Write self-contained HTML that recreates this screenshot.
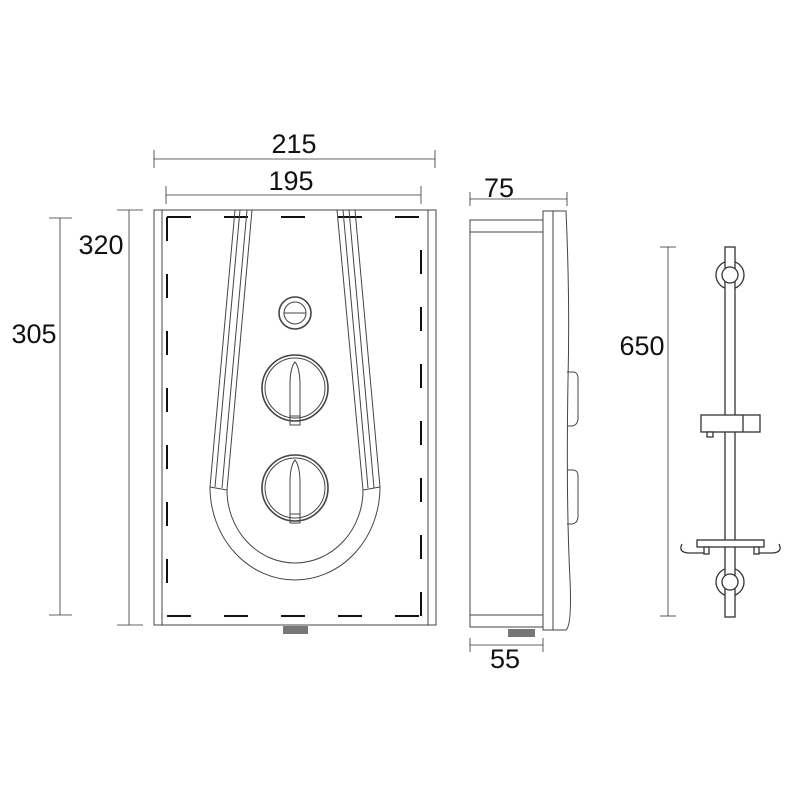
<!DOCTYPE html>
<html><head><style>body{margin:0;background:#fff}svg{display:block}text{font-family:"Liberation Sans",sans-serif;font-size:27px;fill:#111}</style></head><body>
<svg width="800" height="800" viewBox="0 0 800 800" xmlns="http://www.w3.org/2000/svg">
<g stroke="#333" stroke-width="0.8" fill="none">
<line x1="154" y1="159" x2="435" y2="159"/><line x1="154" y1="150" x2="154" y2="168"/><line x1="435" y1="150" x2="435" y2="168"/>
<line x1="166" y1="195" x2="421" y2="195"/><line x1="166" y1="186" x2="166" y2="204"/><line x1="421" y1="186" x2="421" y2="204"/>
<line x1="60" y1="218" x2="60" y2="615"/><line x1="49" y1="218" x2="72" y2="218"/><line x1="49" y1="615" x2="72" y2="615"/>
<line x1="129" y1="210" x2="129" y2="625"/><line x1="117" y1="210" x2="143" y2="210"/><line x1="117" y1="625" x2="143" y2="625"/>
<line x1="470" y1="199" x2="567" y2="199"/><line x1="470" y1="192" x2="470" y2="206"/><line x1="567" y1="192" x2="567" y2="206"/>
<line x1="470" y1="645" x2="543" y2="645"/><line x1="470" y1="638" x2="470" y2="652"/><line x1="543" y1="638" x2="543" y2="652"/>
<line x1="668" y1="247" x2="668" y2="616"/><line x1="660" y1="247" x2="676" y2="247"/><line x1="660" y1="616" x2="676" y2="616"/>
</g>
<text x="294" y="153" text-anchor="middle">215</text>
<text x="291" y="190" text-anchor="middle">195</text>
<text x="34" y="343" text-anchor="middle">305</text>
<text x="101" y="254" text-anchor="middle">320</text>
<text x="499" y="197" text-anchor="middle">75</text>
<text x="505" y="668" text-anchor="middle">55</text>
<text x="642" y="355" text-anchor="middle">650</text>

<g stroke="#444" stroke-width="1" fill="none">
<rect x="154" y="210" width="282" height="415"/>
<line x1="162" y1="210" x2="162" y2="625"/><line x1="428" y1="210" x2="428" y2="625"/>
<g stroke="#111" stroke-width="2">
<line x1="167" y1="217" x2="421" y2="217" stroke-dasharray="24,33"/>
<line x1="167" y1="616" x2="421" y2="616" stroke-dasharray="24,33"/>
<line x1="167" y1="217" x2="167" y2="616" stroke-dasharray="24,33"/>
<line x1="421" y1="217" x2="421" y2="616" stroke-dasharray="0,33,24,0"/>
</g>
<path d="M235 210 L210 487 A85 93 0 0 0 380 487 L355 210"/>
<path d="M252 210 L227 490 A68 73 0 0 0 363 490 L337 210"/>
<path d="M240 210 L215 487 M247 210 L222 488 M343 210 L368 488 M349 210 L374 488"/>
<line x1="210" y1="487" x2="227" y2="490"/><line x1="380" y1="487" x2="363" y2="490"/>
<circle cx="295" cy="313" r="16" stroke-width="1.6"/><circle cx="295" cy="313" r="11"/><line x1="284" y1="313" x2="306" y2="313"/>
<circle cx="295" cy="388" r="33" stroke-width="1.6"/><circle cx="295" cy="388" r="30"/>
<path d="M290 425 L290 385 Q290 368 295 362 Q300 368 300 385 L300 425 Z M290 416 L300 416"/>
<circle cx="295" cy="488" r="33" stroke-width="1.6"/><circle cx="295" cy="488" r="30"/>
<path d="M290 523 L290 483 Q290 466 295 460 Q300 466 300 483 L300 523 Z M290 514 L300 514"/>
</g>
<rect x="283" y="626" width="25" height="8" fill="#777"/>

<g stroke="#444" stroke-width="1" fill="none">
<rect x="470" y="220" width="73" height="407"/>
<line x1="470" y1="232" x2="543" y2="232"/><line x1="470" y1="615" x2="543" y2="615"/>
<path d="M543 211 L566 211 Q570 300 568 380 Q566 500 570 580 Q572 625 566 630 L543 630 Z"/>
<line x1="553" y1="211" x2="553" y2="630"/>
<path d="M567 372 L574 372 Q578 373 578 378 L578 418 Q578 425 572 426 L567 426"/>
<path d="M567 470 L574 470 Q578 471 578 476 L578 516 Q578 523 572 524 L567 524"/>
</g>
<rect x="508" y="629" width="27" height="8" fill="#777"/>

<g stroke="#333" stroke-width="1.3" fill="#fff">
<circle cx="730" cy="275" r="14"/><circle cx="730" cy="582" r="14"/>
<rect x="725" y="247" width="10" height="370"/>
<circle cx="730" cy="275" r="8"/><circle cx="730" cy="582" r="8"/>
<rect x="701" y="415" width="59" height="17"/><line x1="743" y1="415" x2="743" y2="432"/>
<rect x="707" y="432" width="6" height="5"/>
<rect x="697" y="540" width="67" height="7"/>
<rect x="704" y="547" width="5" height="7"/><rect x="754" y="547" width="5" height="7"/>
<path d="M682 544 Q678 552 688 553 L704 553" fill="none"/><path d="M779 544 Q783 552 773 553 L759 553" fill="none"/>
</g>
</svg>
</body></html>
